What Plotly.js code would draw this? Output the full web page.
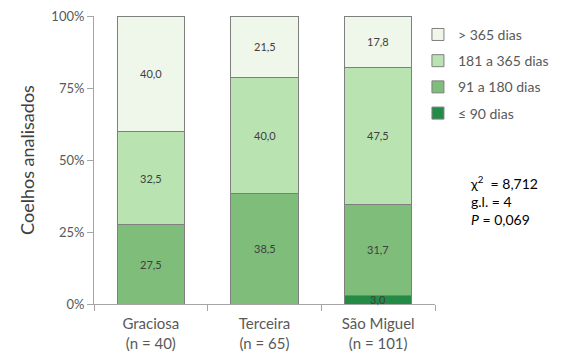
<!DOCTYPE html>
<html><head><meta charset="utf-8">
<script src="https://cdn.plot.ly/plotly-3.0.1.min.js"></script>
<style>body{margin:0;padding:0;background:#fff}#c{width:568px;height:363px}</style>
</head><body><div id="c"></div>
<script>
const categories = ["Graciosa<br>(n = 40)", "Terceira<br>(n = 65)", "São Miguel<br>(n = 101)"];
const seriesNames = ["≤ 90 dias", "91 a 180 dias", "181 a 365 dias", "> 365 dias"];
const le90 = [0, 0, 3.0];
const d91_180 = [27.5, 38.5, 31.7];
const d181_365 = [32.5, 40.0, 47.5];
const gt365 = [40.0, 21.5, 17.8];
const yTicks = [0, 25, 50, 75, 100];
const yTickLabels = ["0%", "25%", "50%", "75%", "100%"];
const colors = ["#238b45", "#7fbd7a", "#bae3b2", "#eff7ea"];

const series = [le90, d91_180, d181_365, gt365];
const traces = series.map((vals, i) => ({
  type: "bar", x: categories, y: vals, name: seriesNames[i],
  legendgroup: "g" + i, legendrank: series.length - i,
  marker: {color: colors[i], line: {color: "#7f7f7f", width: 1}},
  width: 0.59, hoverinfo: "skip"
}));

const annotations = [];
categories.forEach((c, ci) => {
  let base = 0;
  series.forEach(vals => {
    const v = vals[ci];
    if (v > 0) {
      annotations.push({x: c, y: base + v / 2, xref: "x", yref: "y", showarrow: false,
        text: v.toFixed(1).replace(".", ","), font: {size: 11, color: "#404040", family: "Lato, sans-serif"}});
    }
    base += v;
  });
});
annotations.push({xref: "paper", yref: "paper", x: 1.098, y: 0.462, xanchor: "left", yanchor: "top", align: "left",
  showarrow: false, text: "χ<sup>2</sup>  = 8,712<br>g.l. = 4<br><i>P</i> = 0,069",
  font: {size: 14, color: "#000", family: "Lato, sans-serif"}});

const layout = {
  width: 568, height: 363,
  margin: {l: 94, r: 133, t: 16, b: 59},
  paper_bgcolor: "#fff", plot_bgcolor: "#fff",
  barmode: "stack", bargap: 0.41,
  font: {family: "Lato, sans-serif", color: "#595959"},
  xaxis: {showline: true, linecolor: "#a6a6a6", linewidth: 1, ticks: "outside", tickson: "boundaries",
    ticklen: 6, tickcolor: "#a6a6a6", tickfont: {size: 15, color: "#595959"}, showgrid: false, fixedrange: true,
    ticklabelstandoff: 6},
  yaxis: {range: [0, 100], tickvals: yTicks, ticktext: yTickLabels, showline: true, linecolor: "#a6a6a6",
    ticks: "outside", ticklen: 6, tickcolor: "#a6a6a6", showgrid: false, zeroline: false,
    tickfont: {size: 13, color: "#595959"},
    title: {text: "Coelhos analisados", font: {size: 18, color: "#404040"}, standoff: 12}},
  legend: {x: 0.95, y: 0.99, xanchor: "left", yanchor: "top", traceorder: "grouped", tracegroupgap: 5,
    font: {size: 14, color: "#595959"}, itemwidth: 30, bgcolor: "rgba(0,0,0,0)"},
  annotations: annotations,
  showlegend: true
};
Plotly.newPlot("c", traces, layout, {displayModeBar: false, staticPlot: true});
</script></body></html>
